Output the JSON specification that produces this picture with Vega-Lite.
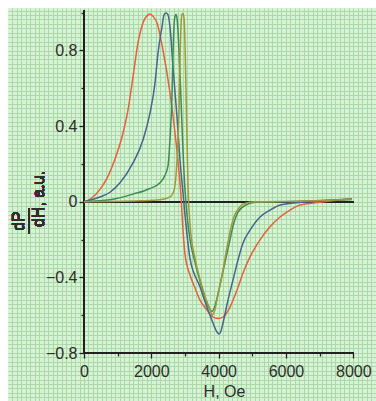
{
  "$schema": "https://vega.github.io/schema/vega-lite/v6.json",
  "width": 368,
  "height": 393,
  "autosize": "none",
  "padding": {"left": 8, "top": 8, "right": 0, "bottom": 0},
  "background": "white",
  "config": {
    "view": {"stroke": null, "fill": "#d8f2d5"},
    "font": "Liberation Sans"
  },
  "resolve": {"scale": {"x": "independent", "y": "independent"}, "axis": {"x": "independent", "y": "independent"}},
  "layer": [
    {
      "data": {"values": [{}]},
      "mark": {"type": "point", "opacity": 0},
      "encoding": {
        "x": {"datum": 0, "type": "quantitative",
          "scale": {"domain": [-2258, 8675], "nice": false, "zero": false},
          "axis": {"orient": "bottom", "grid": true, "gridColor": "#aadaa7", "gridWidth": 1, "gridOpacity": 1, "labels": false, "ticks": false, "domain": false, "title": null,
            "values": [-2133.33,-2000,-1866.67,-1733.33,-1600,-1466.67,-1333.33,-1200,-1066.67,-933.33,-800,-666.67,-533.33,-400,-266.67,-133.33,0,133.33,266.67,400,533.33,666.67,800,933.33,1066.67,1200,1333.33,1466.67,1600,1733.33,1866.67,2000,2133.33,2266.67,2400,2533.33,2666.67,2800,2933.33,3066.67,3200,3333.33,3466.67,3600,3733.33,3866.67,4000,4133.33,4266.67,4400,4533.33,4666.67,4800,4933.33,5066.67,5200,5333.33,5466.67,5600,5733.33,5866.67,6000,6133.33,6266.67,6400,6533.33,6666.67,6800,6933.33,7066.67,7200,7333.33,7466.67,7600,7733.33,7866.67,8000,8133.33,8266.67,8400,8533.33,8666.67]}},
        "y": {"datum": 0, "type": "quantitative",
          "scale": {"domain": [-1.0534, 1.0238], "nice": false, "zero": false},
          "axis": {"orient": "left", "grid": true, "gridColor": "#aadaa7", "gridWidth": 1, "gridOpacity": 1, "labels": false, "ticks": false, "domain": false, "title": null,
            "values": [-1.034,-1.0105,-0.987,-0.9635,-0.94,-0.9165,-0.893,-0.8695,-0.846,-0.8225,-0.799,-0.7755,-0.752,-0.7285,-0.705,-0.6815,-0.658,-0.6345,-0.611,-0.5875,-0.564,-0.5405,-0.517,-0.4935,-0.47,-0.4465,-0.423,-0.3995,-0.376,-0.3525,-0.329,-0.3055,-0.282,-0.2585,-0.235,-0.2115,-0.188,-0.1645,-0.141,-0.1175,-0.094,-0.0705,-0.047,-0.0235,0,0.0235,0.047,0.0705,0.094,0.1175,0.141,0.1645,0.188,0.2115,0.235,0.2585,0.282,0.3055,0.329,0.3525,0.376,0.3995,0.423,0.4465,0.47,0.4935,0.517,0.5405,0.564,0.5875,0.611,0.6345,0.658,0.6815,0.705,0.7285,0.752,0.7755,0.799,0.8225,0.846,0.8695,0.893,0.9165,0.94,0.9635,0.987,1.0105]}}
      }
    },
    {
      "data": {"values": [
        {"s":"red","H":0,"v":0},{"s":"red","H":200,"v":0.015},{"s":"red","H":475,"v":0.065},{"s":"red","H":700,"v":0.13},{"s":"red","H":900,"v":0.215},{"s":"red","H":1159,"v":0.363},{"s":"red","H":1307,"v":0.485},{"s":"red","H":1456,"v":0.66},{"s":"red","H":1604,"v":0.84},{"s":"red","H":1753,"v":0.945},{"s":"red","H":1901,"v":0.987},{"s":"red","H":1961,"v":0.992},{"s":"red","H":2050,"v":0.98},{"s":"red","H":2169,"v":0.945},{"s":"red","H":2347,"v":0.8},{"s":"red","H":2555,"v":0.575},{"s":"red","H":2704,"v":0.363},{"s":"red","H":2800,"v":0.2},{"s":"red","H":2882,"v":0.03},{"s":"red","H":2930,"v":-0.12},{"s":"red","H":3001,"v":-0.28},{"s":"red","H":3149,"v":-0.387},{"s":"red","H":3298,"v":-0.456},{"s":"red","H":3446,"v":-0.52},{"s":"red","H":3654,"v":-0.572},{"s":"red","H":3833,"v":-0.61},{"s":"red","H":3981,"v":-0.617},{"s":"red","H":4130,"v":-0.61},{"s":"red","H":4338,"v":-0.557},{"s":"red","H":4546,"v":-0.467},{"s":"red","H":4724,"v":-0.377},{"s":"red","H":4932,"v":-0.292},{"s":"red","H":5229,"v":-0.202},{"s":"red","H":5526,"v":-0.133},{"s":"red","H":5823,"v":-0.081},{"s":"red","H":6120,"v":-0.044},{"s":"red","H":6417,"v":-0.017},{"s":"red","H":6804,"v":-0.007},{"s":"red","H":7309,"v":0.004},{"s":"red","H":7962,"v":0.014},
        {"s":"blue","H":0,"v":0},{"s":"blue","H":475,"v":0.025},{"s":"blue","H":772,"v":0.05},{"s":"blue","H":1070,"v":0.1},{"s":"blue","H":1456,"v":0.205},{"s":"blue","H":1753,"v":0.326},{"s":"blue","H":1961,"v":0.469},{"s":"blue","H":2109,"v":0.627},{"s":"blue","H":2199,"v":0.786},{"s":"blue","H":2317,"v":0.923},{"s":"blue","H":2377,"v":0.987},{"s":"blue","H":2436,"v":0.997},{"s":"blue","H":2496,"v":0.987},{"s":"blue","H":2555,"v":0.923},{"s":"blue","H":2644,"v":0.712},{"s":"blue","H":2763,"v":0.448},{"s":"blue","H":2852,"v":0.22},{"s":"blue","H":2941,"v":0.046},{"s":"blue","H":3001,"v":-0.07},{"s":"blue","H":3149,"v":-0.3},{"s":"blue","H":3446,"v":-0.45},{"s":"blue","H":3684,"v":-0.572},{"s":"blue","H":3833,"v":-0.641},{"s":"blue","H":3952,"v":-0.689},{"s":"blue","H":4011,"v":-0.699},{"s":"blue","H":4070,"v":-0.683},{"s":"blue","H":4130,"v":-0.641},{"s":"blue","H":4278,"v":-0.52},{"s":"blue","H":4427,"v":-0.414},{"s":"blue","H":4575,"v":-0.308},{"s":"blue","H":4724,"v":-0.218},{"s":"blue","H":4932,"v":-0.15},{"s":"blue","H":5229,"v":-0.081},{"s":"blue","H":5526,"v":-0.044},{"s":"blue","H":5823,"v":-0.017},{"s":"blue","H":6209,"v":-0.007},{"s":"blue","H":7012,"v":0.004},{"s":"blue","H":7962,"v":0.014},
        {"s":"green","H":0,"v":0},{"s":"green","H":772,"v":0.01},{"s":"green","H":1456,"v":0.04},{"s":"green","H":1961,"v":0.07},{"s":"green","H":2258,"v":0.1},{"s":"green","H":2407,"v":0.14},{"s":"green","H":2496,"v":0.19},{"s":"green","H":2555,"v":0.33},{"s":"green","H":2614,"v":0.56},{"s":"green","H":2644,"v":0.78},{"s":"green","H":2674,"v":0.93},{"s":"green","H":2704,"v":0.98},{"s":"green","H":2733,"v":0.99},{"s":"green","H":2763,"v":0.97},{"s":"green","H":2822,"v":0.8},{"s":"green","H":2882,"v":0.54},{"s":"green","H":2941,"v":0.27},{"s":"green","H":3001,"v":0.06},{"s":"green","H":3060,"v":-0.07},{"s":"green","H":3149,"v":-0.2},{"s":"green","H":3298,"v":-0.32},{"s":"green","H":3446,"v":-0.42},{"s":"green","H":3595,"v":-0.51},{"s":"green","H":3714,"v":-0.56},{"s":"green","H":3803,"v":-0.58},{"s":"green","H":3892,"v":-0.55},{"s":"green","H":4040,"v":-0.44},{"s":"green","H":4189,"v":-0.32},{"s":"green","H":4338,"v":-0.2},{"s":"green","H":4456,"v":-0.11},{"s":"green","H":4575,"v":-0.055},{"s":"green","H":4783,"v":-0.02},{"s":"green","H":5080,"v":-0.003},{"s":"green","H":6417,"v":0.002},{"s":"green","H":7962,"v":0.012},
        {"s":"olive","H":0,"v":0},{"s":"olive","H":1664,"v":0.005},{"s":"olive","H":2258,"v":0.01},{"s":"olive","H":2555,"v":0.025},{"s":"olive","H":2674,"v":0.06},{"s":"olive","H":2763,"v":0.22},{"s":"olive","H":2822,"v":0.48},{"s":"olive","H":2852,"v":0.75},{"s":"olive","H":2882,"v":0.93},{"s":"olive","H":2911,"v":0.99},{"s":"olive","H":2941,"v":0.995},{"s":"olive","H":2971,"v":0.97},{"s":"olive","H":3001,"v":0.83},{"s":"olive","H":3030,"v":0.59},{"s":"olive","H":3060,"v":0.33},{"s":"olive","H":3090,"v":0.09},{"s":"olive","H":3149,"v":-0.12},{"s":"olive","H":3298,"v":-0.3},{"s":"olive","H":3446,"v":-0.41},{"s":"olive","H":3595,"v":-0.5},{"s":"olive","H":3744,"v":-0.57},{"s":"olive","H":3803,"v":-0.6},{"s":"olive","H":3892,"v":-0.57},{"s":"olive","H":3981,"v":-0.49},{"s":"olive","H":4100,"v":-0.39},{"s":"olive","H":4219,"v":-0.27},{"s":"olive","H":4338,"v":-0.16},{"s":"olive","H":4456,"v":-0.08},{"s":"olive","H":4575,"v":-0.04},{"s":"olive","H":4753,"v":-0.01},{"s":"olive","H":5080,"v":0},{"s":"olive","H":6417,"v":0.003},{"s":"olive","H":7962,"v":0.013}
      ]},
      "encoding": {
        "x": {"type": "quantitative", "scale": {"domain": [-2258, 8675], "nice": false, "zero": false}},
        "y": {"type": "quantitative", "scale": {"domain": [-1.0534, 1.0238], "nice": false, "zero": false}}
      },
      "layer": [
        {
          "mark": {"type": "rule", "color": "#222222", "strokeWidth": 1.4},
          "encoding": {"x": {"datum": 0, "type": "quantitative"}, "x2": {"datum": 8000}, "y": {"datum": -0.8, "type": "quantitative"}}
        },
        {
          "mark": {"type": "rule", "color": "#222222", "strokeWidth": 1.4},
          "encoding": {"x": {"datum": 0, "type": "quantitative"}, "y": {"datum": -0.8, "type": "quantitative"}, "y2": {"datum": 1.013}}
        },
        {
          "mark": {"type": "rule", "color": "#222222", "strokeWidth": 1.2},
          "encoding": {"x": {"datum": 0, "type": "quantitative"}, "x2": {"datum": 8000}, "y": {"datum": 0, "type": "quantitative"}}
        },
        {
          "mark": {"type": "line", "strokeWidth": 1.5, "interpolate": "monotone"},
          "encoding": {
            "x": {"field": "H", "type": "quantitative",
              "axis": {"orient": "bottom", "offset": -48, "domain": false, "grid": false,
                "values": [0,1000,2000,3000,4000,5000,6000,7000,8000],
                "labelExpr": "datum.value % 2000 === 0 ? format(datum.value, 'd') : ''",
                "tickSize": {"condition": {"test": "datum.value % 2000 !== 0", "value": 3}, "value": 5},
                "tickColor": "#222222", "tickWidth": 1.3,
                "labelFontSize": 16, "labelColor": "#2e2e2e", "labelPadding": 5, "labelFont": "Liberation Sans",
                "title": "H, Oe", "titleFontSize": 16, "titleFontWeight": "normal", "titleColor": "#2e2e2e", "titleFont": "Liberation Sans", "titlePadding": 4, "titleX": 216, "titleAnchor": "start", "titleAlign": "center"}},
            "y": {"field": "v", "type": "quantitative",
              "axis": {"orient": "left", "offset": -76, "domain": false, "grid": false,
                "values": [-0.8,-0.6,-0.4,-0.2,0,0.2,0.4,0.6,0.8,1.0],
                "labelExpr": "abs(round(datum.value*10)) % 4 === 0 ? (datum.value === 0 ? '0' : format(datum.value, '.1f')) : ''",
                "tickSize": {"condition": {"test": "abs(round(datum.value*10)) % 4 !== 0", "value": 3}, "value": 5},
                "tickColor": "#222222", "tickWidth": 1.3,
                "labelFontSize": 16, "labelColor": "#2e2e2e", "labelPadding": 2, "labelFont": "Liberation Sans",
                "title": null}},
            "color": {"field": "s", "type": "nominal", "legend": null,
              "scale": {"domain": ["red", "blue", "green", "olive"], "range": ["#e6603f", "#46658f", "#3e8a55", "#a09a3c"]}},
            "detail": {"field": "s"}
          }
        },
        {
          "mark": {"type": "text", "text": "dP", "angle": 270, "fontSize": 16, "font": "Liberation Sans", "color": "#2e2e2e", "align": "center", "baseline": "middle"},
          "encoding": {"x": {"datum": -1930, "type": "quantitative"}, "y": {"datum": -0.102, "type": "quantitative"}}
        },
        {
          "mark": {"type": "text", "text": "dH, a.u.", "angle": 270, "fontSize": 16, "font": "Liberation Sans", "color": "#2e2e2e", "align": "center", "baseline": "middle"},
          "encoding": {"x": {"datum": -1337, "type": "quantitative"}, "y": {"datum": 0.014, "type": "quantitative"}}
        },
        {
          "mark": {"type": "rule", "color": "#2e2e2e", "strokeWidth": 1.2},
          "encoding": {"x": {"datum": -1634, "type": "quantitative"}, "y": {"datum": -0.033, "type": "quantitative"}, "y2": {"datum": -0.171}}
        }
      ]
    }
  ]
}
